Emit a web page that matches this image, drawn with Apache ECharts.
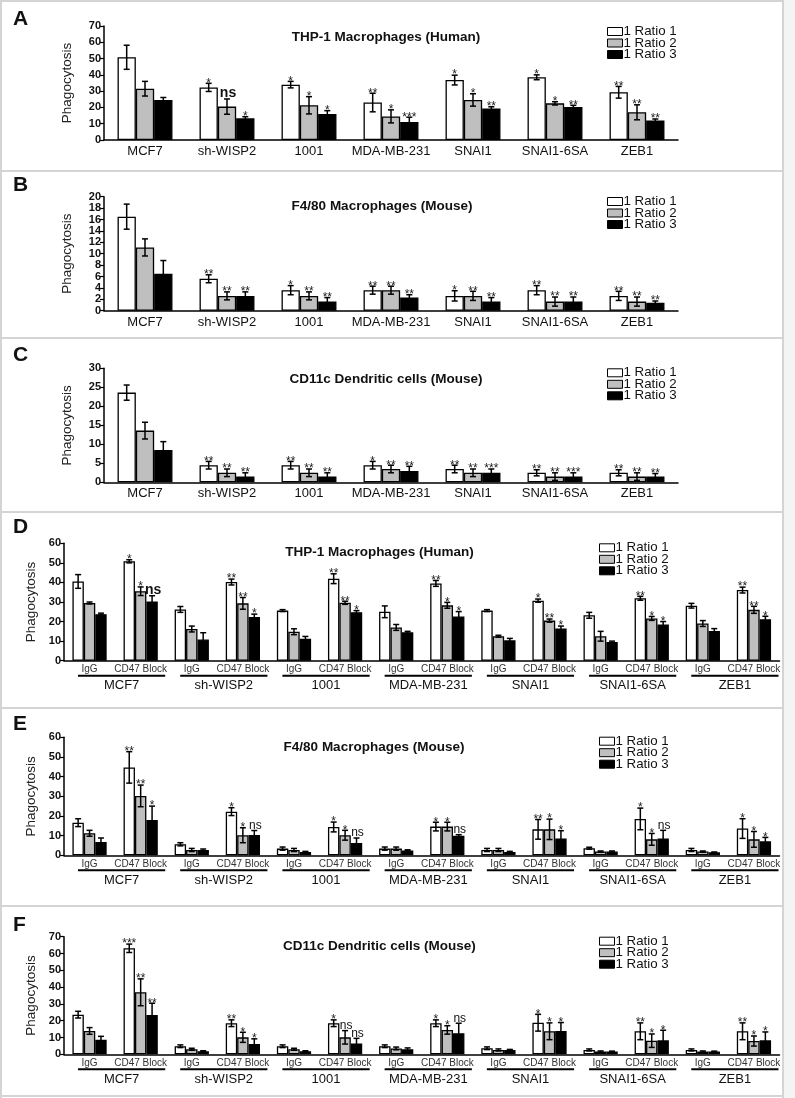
<!DOCTYPE html>
<html><head><meta charset="utf-8">
<script src="https://cdn.jsdelivr.net/npm/echarts@6/dist/echarts.min.js"></script>
<style>html,body{margin:0;padding:0;background:#fff}#c{width:795px;height:1098px}</style>
</head><body><div id="c"></div>
<script>
// ---------- DATA ----------
const groups = ['MCF7', 'sh-WISP2', '1001', 'MDA-MB-231', 'SNAI1', 'SNAI1-6SA', 'ZEB1'];
const treatments = ['IgG', 'CD47 Block'];
const seriesNames = ['1 Ratio 1', '1 Ratio 2', '1 Ratio 3'];
const panelLetters = ['A', 'B', 'C', 'D', 'E', 'F'];
const panelTitles = ['THP-1 Macrophages (Human)', 'F4/80 Macrophages (Mouse)', 'CD11c Dendritic cells (Mouse)',
  'THP-1 Macrophages (Human)', 'F4/80 Macrophages (Mouse)', 'CD11c Dendritic cells (Mouse)'];
const yName = 'Phagocytosis';

// Panel A
const aR1 = [50.8, 32.3, 34, 23, 36.8, 38.5, 29.3];
const aR1Err = [7.4, 2.5, 2, 5.7, 3, 1.5, 3.6];
const aR1Sig = ['', '*', '*', '**', '*', '*', '**'];
const aR2 = [31.5, 20.5, 21.3, 14.5, 24.6, 22.5, 17];
const aR2Err = [4.5, 4.7, 5.3, 4, 3.8, 1, 4.6];
const aR2Sig = ['', 'ns', '*', '*', '*', '*', '**'];
const aR3 = [24.6, 13.3, 16, 11, 19.4, 20.3, 11.9];
const aR3Err = [1.5, 1, 2, 3, 1, 1, 1];
const aR3Sig = ['', '*', '*', '***', '**', '**', '**'];
// Panel B
const bR1 = [16.5, 5.6, 3.6, 3.6, 2.6, 3.6, 2.6];
const bR1Err = [2.2, 0.7, 0.8, 0.7, 0.9, 0.8, 0.8];
const bR1Sig = ['', '**', '*', '**', '*', '**', '**'];
const bR2 = [11.1, 2.6, 2.6, 3.6, 2.6, 1.6, 1.6];
const bR2Err = [1.5, 0.7, 0.7, 0.7, 0.8, 0.8, 0.8];
const bR2Sig = ['', '**', '**', '**', '**', '**', '**'];
const bR3 = [6.5, 2.6, 1.6, 2.3, 1.6, 1.6, 1.4];
const bR3Err = [2.3, 0.7, 0.7, 0.5, 0.7, 0.8, 0.3];
const bR3Sig = ['', '**', '**', '**', '**', '**', '**'];
// Panel C
const cR1 = [23.6, 4.5, 4.5, 4.5, 3.5, 2.5, 2.5];
const cR1Err = [2, 1, 1, 1, 1, 0.8, 0.8];
const cR1Sig = ['', '**', '**', '*', '**', '**', '**'];
const cR2 = [13.6, 2.5, 2.5, 3.5, 2.5, 1.5, 1.5];
const cR2Err = [2.2, 1, 1, 1, 1, 1, 1];
const cR2Sig = ['', '**', '**', '**', '**', '**', '**'];
const cR3 = [8.5, 1.5, 1.5, 3, 2.5, 1.5, 1.5];
const cR3Err = [2.2, 1, 1, 1.2, 1, 1, 0.8];
const cR3Sig = ['', '**', '**', '**', '***', '***', '**'];
// Panel D (IgG / CD47 Block per group)
const dR1 = [40.5, 50.8, 26.2, 40.2, 25.6, 41.9, 25, 39.5, 25.6, 30.7, 23.2, 31.9, 28.1, 36.1];
const dR1Err = [3.5, 0.8, 1.5, 1.5, 0.5, 2.5, 3, 1.5, 0.5, 0.8, 1.5, 1, 1.2, 1.5];
const dR1Sig = ['', '*', '', '**', '', '**', '', '**', '', '*', '', '**', '', '**'];
const dR2 = [29.5, 35.5, 16.2, 29.3, 14.8, 29.6, 17, 28.3, 12.5, 20.5, 12.5, 21.6, 19, 26];
const dR2Err = [0.5, 2.2, 1.5, 3, 1.5, 0.8, 1.5, 1.5, 0.5, 0.8, 2.5, 1, 1.5, 1.8];
const dR2Sig = ['', '*', '', '**', '', '**', '', '*', '', '**', '', '*', '', '**'];
const dR3 = [23.8, 30.2, 10.8, 22.3, 11.2, 24.8, 14.5, 22.6, 10.4, 16.5, 9.5, 18.5, 15.2, 21.2];
const dR3Err = [0.5, 3, 3.5, 1.5, 1.2, 0.8, 0.5, 2.5, 1, 1.2, 0.5, 1.5, 1.2, 1.5];
const dR3Sig = ['', 'ns', '', '*', '', '*', '', '*', '', '*', '', '*', '', '*'];
// Panel E
const eR1 = [16.6, 44.7, 5.6, 22.2, 3.4, 14.4, 3.4, 14.6, 2.7, 13.2, 3.6, 18.5, 2.7, 13.6];
const eR1Err = [2, 8, 0.8, 2, 0.8, 2.5, 0.8, 2.2, 0.8, 5, 0.5, 5.5, 0.8, 5];
const eR1Sig = ['', '**', '', '*', '', '*', '', '*', '', '**', '', '*', '', '*'];
const eR2 = [11.2, 30.2, 2.7, 10.2, 2.7, 10.2, 3.4, 14.6, 2.7, 13.2, 1.9, 8.1, 1.9, 8.1];
const eR2Err = [1.5, 5.5, 0.8, 3.8, 0.8, 2.5, 0.8, 2.2, 0.8, 5.2, 0.3, 3, 0.3, 4];
const eR2Sig = ['', '**', '', '*', '', '*', '', '*', '', '*', '', '*', '', '*'];
const eR3 = [6.8, 18, 2.7, 10.3, 1.7, 6.3, 2.5, 10, 1.7, 8.5, 1.9, 8.5, 1.5, 7.1];
const eR3Err = [2, 7, 0.5, 2.3, 0.3, 2.5, 0.3, 0.5, 0.3, 4, 0.3, 4.2, 0.2, 2];
const eR3Sig = ['', '*', '', 'ns', '', 'ns', '', 'ns', '', '*', '', 'ns', '', '*'];
// Panel F
const fR1 = [23.6, 63.1, 4.8, 18.5, 4.8, 18.5, 4.8, 18.5, 3.6, 18.8, 2.6, 13.7, 2.6, 13.7];
const fR1Err = [2, 2.5, 0.8, 2, 0.8, 2, 0.8, 2, 0.8, 5, 0.6, 5, 0.6, 5];
const fR1Sig = ['', '***', '', '**', '', '*', '', '*', '', '*', '', '**', '', '**'];
const fR2 = [13.9, 36.9, 3, 10.1, 3, 10.1, 3.5, 14.5, 2.6, 13.7, 1.6, 8.1, 1.6, 7.9];
const fR2Err = [2, 8, 0.6, 3, 0.6, 4, 0.8, 2.5, 0.6, 5, 0.4, 4, 0.4, 3];
const fR2Sig = ['', '**', '', '*', '', 'ns', '', '*', '', '*', '', '*', '', '*'];
const fR3 = [8.7, 23.4, 1.8, 6.2, 1.8, 6.5, 3, 12.5, 2.6, 13.9, 1.6, 8.3, 1.6, 8.3];
const fR3Err = [2, 7, 0.3, 3, 0.3, 3, 0.8, 6, 0.3, 5, 0.3, 6, 0.3, 5];
const fR3Sig = ['', '**', '', '*', '', 'ns', '', 'ns', '', '*', '', '*', '', '*'];

// y-axis scales per panel
const yMax = [70, 20, 30, 60, 60, 70];
const yInterval = [10, 2, 5, 10, 10, 10];

// ---------- LAYOUT / STYLE ----------
const FONT = "'Liberation Sans', Arial, Helvetica, sans-serif";
const barColors = ['#ffffff', '#bfbfbf', '#000000'];
const CAT_GAP = 0.33;
const pairedCats = groups.flatMap(() => treatments);

const panels = [
  { vals: [aR1, aR2, aR3], errs: [aR1Err, aR2Err, aR3Err], sigs: [aR1Sig, aR2Sig, aR3Sig], paired: false,
    grid: { left: 104, width: 574, top: 26, height: 114 }, letterY: 20, titleX: 386, titleY: 37, legX: 607, legY: 31, nsBig: true },
  { vals: [bR1, bR2, bR3], errs: [bR1Err, bR2Err, bR3Err], sigs: [bR1Sig, bR2Sig, bR3Sig], paired: false,
    grid: { left: 104, width: 574, top: 196.7, height: 114 }, letterY: 185.5, titleX: 382, titleY: 206.7, legX: 607, legY: 201, nsBig: true },
  { vals: [cR1, cR2, cR3], errs: [cR1Err, cR2Err, cR3Err], sigs: [cR1Sig, cR2Sig, cR3Sig], paired: false,
    grid: { left: 104, width: 574, top: 368.3, height: 114 }, letterY: 355.5, titleX: 386, titleY: 379.3, legX: 607, legY: 372.3, nsBig: true },
  { vals: [dR1, dR2, dR3], errs: [dR1Err, dR2Err, dR3Err], sigs: [dR1Sig, dR2Sig, dR3Sig], paired: true,
    grid: { left: 64, width: 715.5, top: 543.3, height: 117.4 }, letterY: 528, titleX: 379.5, titleY: 552.3, legX: 599, legY: 547.3, nsBig: true },
  { vals: [eR1, eR2, eR3], errs: [eR1Err, eR2Err, eR3Err], sigs: [eR1Sig, eR2Sig, eR3Sig], paired: true,
    grid: { left: 64, width: 715.5, top: 737.3, height: 118 }, letterY: 724.5, titleX: 374, titleY: 747.3, legX: 599, legY: 740.7, nsBig: false },
  { vals: [fR1, fR2, fR3], errs: [fR1Err, fR2Err, fR3Err], sigs: [fR1Sig, fR2Sig, fR3Sig], paired: true,
    grid: { left: 64, width: 715.5, top: 936.7, height: 117.6 }, letterY: 925.5, titleX: 379.3, titleY: 946, legX: 599, legY: 940.7, nsBig: false }
];

function errRender(k, errs, sigs, nsBig) {
  return function (params, api) {
    const i = params.dataIndex;
    const x = api.value(0), v = api.value(1), e = errs[i];
    const band = api.size([1, 0])[0];
    const bw = band * (1 - CAT_GAP) / 3;
    const cx = api.coord([x, v])[0] + (k - 1) * bw;
    const yTop = api.coord([x, v + e])[1];
    const yBot = api.coord([x, Math.max(0, v - e)])[1];
    const cap = 3;
    const ls = { stroke: '#000', lineWidth: 1.5 };
    const ch = [
      { type: 'line', shape: { x1: cx, y1: yTop, x2: cx, y2: yBot }, style: ls },
      { type: 'line', shape: { x1: cx - cap, y1: yTop, x2: cx + cap, y2: yTop }, style: ls },
      { type: 'line', shape: { x1: cx - cap, y1: yBot, x2: cx + cap, y2: yBot }, style: ls }
    ];
    const s = sigs[i];
    if (s) {
      if (s === 'ns') {
        ch.push({ type: 'text', style: { text: s, x: cx + 1, y: yTop + 1, align: 'center', verticalAlign: 'bottom',
          font: nsBig ? 'bold 14px ' + FONT : '12px ' + FONT, fill: '#111' } });
      } else {
        ch.push({ type: 'text', style: { text: s, x: cx, y: yTop + 6, align: 'center', verticalAlign: 'bottom',
          font: '12px ' + FONT, fill: '#222' } });
      }
    }
    return { type: 'group', children: ch };
  };
}

function groupRender(params, api) {
  const g = params.dataIndex;
  const band = api.size([1, 0])[0];
  const p0 = api.coord([2 * g, 0]);
  const p1 = api.coord([2 * g + 1, 0]);
  const left = p0[0] - band / 2 + 14, right = p1[0] + band / 2 - 1;
  const y = p0[1] + 15;
  return { type: 'group', children: [
    { type: 'line', shape: { x1: left, y1: y, x2: right, y2: y }, style: { stroke: '#000', lineWidth: 2 } },
    { type: 'text', style: { text: groups[g], x: (left + right) / 2, y: y + 10, align: 'center', verticalAlign: 'middle',
      font: '13px ' + FONT, fill: '#111' } }
  ] };
}

const grids = [], xAxes = [], yAxes = [], series = [], legends = [], graphics = [];

panels.forEach((p, pi) => {
  grids.push(Object.assign({ containLabel: false }, p.grid));
  xAxes.push({
    type: 'category', gridIndex: pi, data: p.paired ? pairedCats : groups,
    axisLine: { lineStyle: { color: '#000', width: 1.5 } },
    axisTick: p.paired ? { length: 4, interval: (i) => i % 2 === 0, lineStyle: { color: '#000', width: 1.5 } }
                       : { length: 5, lineStyle: { color: '#000', width: 1.5 } },
    axisLabel: p.paired ? { interval: 0, fontSize: 10, fontFamily: FONT, color: '#333', margin: 4 }
                        : { interval: 0, fontSize: 13, fontFamily: FONT, color: '#111', margin: 5 },
    splitLine: { show: false }
  });
  yAxes.push({
    type: 'value', gridIndex: pi, min: 0, max: yMax[pi], interval: yInterval[pi],
    name: yName, nameLocation: 'middle', nameGap: p.paired ? 24 : 29.5,
    nameTextStyle: { fontSize: 13.5, fontFamily: FONT, color: '#222' },
    axisLine: { show: true, lineStyle: { color: '#000', width: 1.5 } },
    axisTick: { show: true, length: 4, lineStyle: { color: '#000', width: 1.2 } },
    axisLabel: { fontSize: 11, fontWeight: 'bold', fontFamily: FONT, color: '#111', margin: 3 },
    splitLine: { show: false }
  });
  for (let k = 0; k < 3; k++) {
    series.push({
      type: 'bar', name: seriesNames[k], xAxisIndex: pi, yAxisIndex: pi, data: p.vals[k],
      barGap: '0%', barCategoryGap: (CAT_GAP * 100) + '%',
      itemStyle: { color: barColors[k], borderColor: '#000', borderWidth: 1.3 },
      animation: false, silent: true
    });
  }
  for (let k = 0; k < 3; k++) {
    series.push({
      type: 'custom', xAxisIndex: pi, yAxisIndex: pi, clip: false, z: 5,
      data: p.vals[k].map((v, i) => [i, v]),
      encode: { x: 0, y: 1 },
      renderItem: errRender(k, p.errs[k], p.sigs[k], p.nsBig),
      animation: false, silent: true
    });
  }
  if (p.paired) {
    series.push({
      type: 'custom', xAxisIndex: pi, yAxisIndex: pi, clip: false,
      data: groups.map((g, i) => [2 * i, 0]), encode: { x: 0, y: 1 },
      renderItem: groupRender, animation: false, silent: true
    });
  }
  legends.push({
    orient: 'vertical', left: p.legX, top: p.legY - 6, itemWidth: 15, itemHeight: 8, itemGap: -1.5, padding: 0,
    data: seriesNames, selectedMode: false, icon: 'rect',
    itemStyle: { borderColor: '#000', borderWidth: 1 },
    textStyle: { fontSize: 13.3, fontFamily: FONT, color: '#111', lineHeight: 11.5, padding: [0, 0, 0, -4] }
  });
  graphics.push({ type: 'text', left: 13, top: p.letterY - 11, style: { text: panelLetters[pi], font: 'bold 21px ' + FONT, fill: '#111' } });
  graphics.push({ type: 'text', x: p.titleX, y: p.titleY, style: { text: panelTitles[pi], font: 'bold 13.5px ' + FONT, fill: '#111', align: 'center', verticalAlign: 'middle' } });
});

// frame lines
const frameColor = '#d4d4d4';
graphics.push({ type: 'rect', shape: { x: 784, y: 0, width: 11, height: 1098 }, style: { fill: '#f4f4f4' }, z: -10 });
[1, 171, 338, 512, 708, 906, 1096].forEach(y => {
  graphics.push({ type: 'line', shape: { x1: 0, y1: y, x2: 784, y2: y }, style: { stroke: frameColor, lineWidth: 2 } });
});
graphics.push({ type: 'line', shape: { x1: 1, y1: 0, x2: 1, y2: 1098 }, style: { stroke: frameColor, lineWidth: 2 } });
graphics.push({ type: 'line', shape: { x1: 783, y1: 0, x2: 783, y2: 1098 }, style: { stroke: frameColor, lineWidth: 2 } });

const chart = echarts.init(document.getElementById('c'), null, { renderer: 'canvas' });
chart.setOption({
  backgroundColor: '#ffffff',
  animation: false,
  textStyle: { fontFamily: FONT },
  grid: grids, xAxis: xAxes, yAxis: yAxes, series: series, legend: legends,
  graphic: { elements: graphics }
});
</script></body></html>
